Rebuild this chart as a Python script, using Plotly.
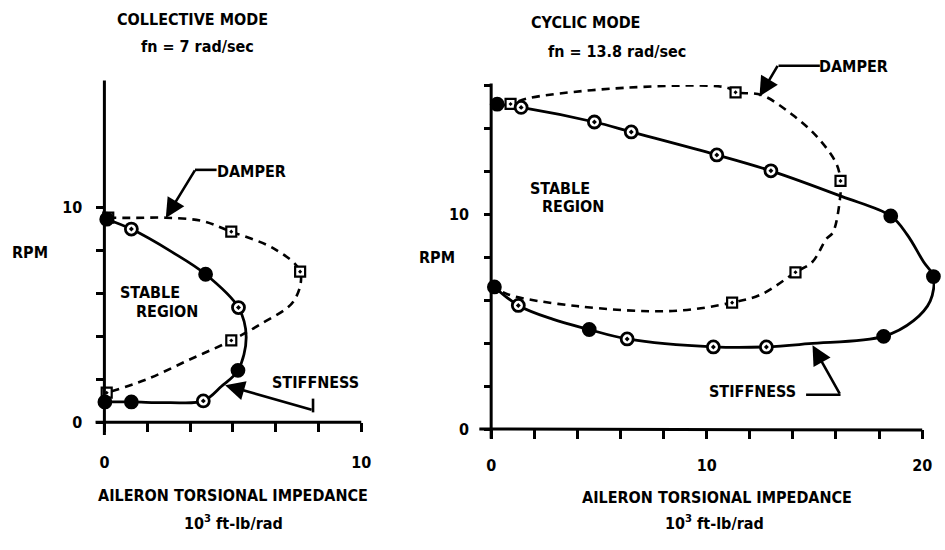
import plotly.graph_objects as go

W, H = 945, 550

# ---------------- data: collective mode (left panel) ----------------
# stiffness boundary (solid curve) and its test points
col_stiff_path_x = [0.09, 1.05, 2.64, 3.94, 5.22, 5.52, 5.20, 4.56, 3.85, 2.52, 1.05, 0.02]
col_stiff_path_y = [9.44, 8.98, 7.91, 6.88, 5.33, 3.96, 2.41, 1.67, 0.99, 0.91, 0.94, 0.94]
col_stiff_pts_x = [0.09, 1.05, 3.94, 5.22, 5.20, 3.85, 1.05, 0.02]
col_stiff_pts_y = [9.44, 8.98, 6.88, 5.33, 2.41, 0.99, 0.94, 0.94]
col_stiff_filled = [True, False, True, False, True, False, True, True]

# damper boundary (dashed curve) and its test points
col_damp_path_x = [0.15, 1.20, 2.39, 3.79, 4.94, 6.60, 7.62, 7.37, 6.09, 4.94, 3.28, 1.62, 0.09]
col_damp_path_y = [9.51, 9.50, 9.51, 9.36, 8.86, 8.07, 7.00, 5.63, 4.57, 3.80, 2.89, 1.98, 1.37]
col_damp_pts_x = [0.15, 4.94, 7.62, 4.94, 0.09]
col_damp_pts_y = [9.51, 8.86, 7.00, 3.80, 1.37]

# ---------------- data: cyclic mode (right panel) ----------------
cyc_stiff_path_x = [0.28, 1.39, 4.79, 6.50, 10.47, 12.98, 16.26, 18.54, 19.30, 20.06, 20.52,
                    20.37, 19.60, 18.21, 14.75, 12.77, 10.31, 6.31, 4.55, 2.85, 1.26, 0.15]
cyc_stiff_path_y = [15.11, 14.96, 14.28, 13.82, 12.75, 12.01, 10.82, 9.91, 9.04, 7.78, 7.09,
                    5.95, 5.04, 4.31, 3.97, 3.82, 3.82, 4.19, 4.63, 5.11, 5.75, 6.61]
cyc_stiff_pts_x = [0.28, 1.39, 4.79, 6.50, 10.47, 12.98, 18.54, 20.52, 18.21, 12.77, 10.31, 6.31, 4.55, 1.26, 0.15]
cyc_stiff_pts_y = [15.11, 14.96, 14.28, 13.82, 12.75, 12.01, 9.91, 7.09, 4.31, 3.82, 3.82, 4.19, 4.63, 5.75, 6.61]
cyc_stiff_filled = [True, False, False, False, False, False, True, True, True, False, False, False, True, False, True]

cyc_damp_path_x = [0.00, 0.90, 1.74, 6.34, 10.95, 11.34, 12.53, 13.96, 15.15, 16.02, 16.21, 16.18,
                   15.86, 15.55, 14.91, 14.12, 12.53, 11.18, 8.41, 3.96, 0.79, 0.15]
cyc_damp_path_y = [15.05, 15.12, 15.39, 15.88, 15.88, 15.66, 15.54, 14.63, 13.56, 12.34, 11.54, 10.67,
                   9.15, 8.84, 7.78, 7.29, 6.26, 5.88, 5.49, 5.72, 6.26, 6.61]
cyc_damp_pts_x = [0.90, 11.34, 16.21, 14.12, 11.18]
cyc_damp_pts_y = [15.12, 15.66, 11.54, 7.29, 5.88]

# ---------------- axis ticks ----------------
col_xticks = [0, 1.667, 3.333, 5, 6.667, 8.333, 10]
col_xlabels = ["0", "", "", "", "", "", "10"]
col_yticks = [0, 2, 4, 6, 8, 10]
col_ylabels = ["0", "", "", "", "", "10"]
cyc_xticks = [0, 2, 4, 6, 8, 10, 12, 14, 16, 18, 20]
cyc_xlabels = ["0", "", "", "", "", "10", "", "", "", "", "20"]
cyc_yticks = [0, 2, 4, 6, 8, 10, 12, 14, 16]
cyc_ylabels = ["0", "", "", "", "", "10", "", "", ""]

FONT = dict(family="DejaVu Sans Condensed, Liberation Sans Narrow, DejaVu Sans, sans-serif",
            size=16, color="black", weight="bold")


def fx(px):
    return px / W


def fy(py):
    return 1 - py / H


fig = go.Figure()


def add_panel(xa, ya, sx, sy, sfill, sdx, sdy, dx, dy, ddx, ddy):
    # dashed damper boundary
    fig.add_trace(go.Scatter(x=dx, y=dy, xaxis=xa, yaxis=ya, mode="lines",
                             line=dict(color="black", width=2.6, dash="8px,6px", shape="spline", smoothing=1.0),
                             hoverinfo="skip", showlegend=False))
    # solid stiffness boundary
    fig.add_trace(go.Scatter(x=sx, y=sy, xaxis=xa, yaxis=ya, mode="lines",
                             line=dict(color="black", width=2.8, shape="spline", smoothing=1.0),
                             hoverinfo="skip", showlegend=False))
    fig.add_trace(go.Scatter(x=ddx, y=ddy, xaxis=xa, yaxis=ya, mode="markers", cliponaxis=False,
                             marker=dict(symbol="square-dot", size=10, color="white",
                                         line=dict(color="black", width=2.2)),
                             hoverinfo="skip", showlegend=False))
    fig.add_trace(go.Scatter(x=sdx, y=sdy, xaxis=xa, yaxis=ya, mode="markers", cliponaxis=False,
                             marker=dict(symbol="circle-dot", size=12,
                                         color=["black" if f else "white" for f in sfill],
                                         line=dict(color="black", width=2.8)),
                             hoverinfo="skip", showlegend=False))


add_panel("x", "y", col_stiff_path_x, col_stiff_path_y, col_stiff_filled, col_stiff_pts_x, col_stiff_pts_y,
          col_damp_path_x, col_damp_path_y, col_damp_pts_x, col_damp_pts_y)
add_panel("x2", "y2", cyc_stiff_path_x, cyc_stiff_path_y, cyc_stiff_filled, cyc_stiff_pts_x, cyc_stiff_pts_y,
          cyc_damp_path_x, cyc_damp_path_y, cyc_damp_pts_x, cyc_damp_pts_y)

axis_common = dict(showgrid=False, zeroline=False, showline=False, ticks="outside",
                   tickcolor="black", tickwidth=2.5, tickfont=FONT, fixedrange=True)

fig.update_layout(
    width=W, height=H, margin=dict(l=0, r=0, t=0, b=0),
    paper_bgcolor="white", plot_bgcolor="white",
    xaxis=dict(domain=[fx(101), fx(362)], range=[0, 10], anchor="y",
               tickvals=col_xticks, ticktext=col_xlabels, ticklen=9, ticklabelstandoff=17, **axis_common),
    yaxis=dict(domain=[fy(430), fy(79.6)], range=[0, 16], anchor="x",
               tickvals=col_yticks, ticktext=col_ylabels, ticklen=7, ticklabelstandoff=11, **axis_common),
    xaxis2=dict(domain=[fx(494), 1], range=[0, (945 - 494) / 21.9], anchor="y2",
                tickvals=cyc_xticks, ticktext=cyc_xlabels, ticklen=9, ticklabelstandoff=13, **axis_common),
    yaxis2=dict(domain=[fy(437), fy(86.6)], range=[0, 16], anchor="x2",
                tickvals=cyc_yticks, ticktext=cyc_ylabels, ticklen=6, ticklabelstandoff=12, **axis_common),
)

# axis lines (they overhang the origin like drafted axes)
axis_lines = [((101, 82), (101, 443)), ((92, 430), (362, 430)),
              ((494, 85), (494, 447)), ((482, 437), (932, 438))]
for (x0, y0), (x1, y1) in axis_lines:
    fig.add_shape(type="line", xref="paper", yref="paper", x0=fx(x0), y0=fy(y0), x1=fx(x1), y1=fy(y1),
                  line=dict(color="black", width=3))

# leader-line elbows
elbows = [((193, 173), (215, 173)), ((313, 406), (313, 420)),
          ((786, 67), (828, 67)), ((814, 402), (849, 402))]
for (x0, y0), (x1, y1) in elbows:
    fig.add_shape(type="line", xref="paper", yref="paper", x0=fx(x0), y0=fy(y0), x1=fx(x1), y1=fy(y1),
                  line=dict(color="black", width=2.6))

# arrows pointing to curves: (xref, yref, tip_x, tip_y, ax, ay)
arrows = [("x", "y", 2.39, 9.50, 30, -49),
          ("x", "y", 4.70, 1.72, 88, 25),
          ("x2", "y2", 12.45, 15.47, 19, -32),
          ("x2", "y2", 14.91, 3.90, 28, 50)]
for xr, yr, tx, ty, ax, ay in arrows:
    fig.add_annotation(x=tx, y=ty, xref=xr, yref=yr, text="", showarrow=True, ax=ax, ay=ay,
                       arrowhead=2, arrowsize=1.5, arrowwidth=2.6, arrowcolor="black", standoff=0)

texts = [
    ("COLLECTIVE MODE", 191, 20), ("fn = 7 rad/sec", 196, 47),
    ("CYCLIC MODE", 590, 23), ("fn = 13.8 rad/sec", 622, 52),
    ("RPM", 25, 257), ("RPM", 439, 262),
    ("DAMPER", 250, 175), ("DAMPER", 862, 68),
    ("STIFFNESS", 316, 390), ("STIFFNESS", 760, 399),
    ("STABLE", 147, 298), ("REGION", 165, 317),
    ("STABLE", 564, 192), ("REGION", 577, 210),
    ("AILERON TORSIONAL IMPEDANCE", 232, 505), ("10<sup>3</sup> ft-lb/rad", 232, 532),
    ("AILERON TORSIONAL IMPEDANCE", 723, 507), ("10<sup>3</sup> ft-lb/rad", 721, 532),
]
for t, x, y in texts:
    fig.add_annotation(text=t, x=fx(x), y=fy(y), xref="paper", yref="paper", showarrow=False,
                       xanchor="center", yanchor="middle", font=FONT)

fig.write_html("out.html")
